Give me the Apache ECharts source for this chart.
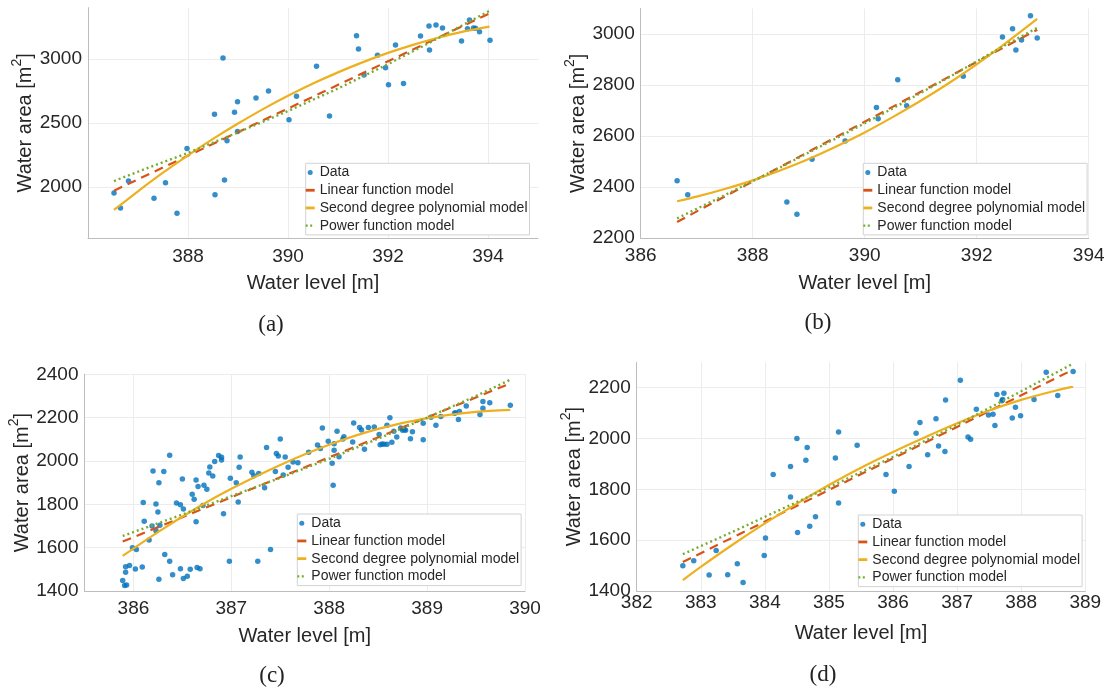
<!DOCTYPE html>
<html>
<head>
<meta charset="utf-8">
<script src="https://cdn.jsdelivr.net/npm/echarts@6/dist/echarts.min.js"></script>
<style>
  html, body { margin: 0; padding: 0; background: #fff; }
  #chart { width: 1110px; height: 693px; }
</style>
</head>
<body>
<div id="chart"></div>
<script>
// ---- Panel (a) ----
const levelA = [386.52,386.65,386.81,387.32,387.55,387.78,387.98,388.53,388.54,388.70,388.73,388.78,388.93,388.99,388.99,389.36,389.61,390.02,390.17,390.57,390.83,391.37,391.41,391.52,391.79,391.95,392.01,392.15,392.31,392.65,392.82,392.83,392.96,393.09,393.47,393.59,393.63,393.71,393.75,393.83,394.04];
const areaA  = [1952,1834,2045,1910,2032,1793,2300,2566,1938,3006,2053,2360,2582,2665,2433,2694,2748,2524,2707,2941,2553,3181,3077,2873,3027,2931,2798,3108,2808,3178,3256,3069,3264,3241,3139,3235,3303,3241,3238,3212,3144];
const linLevelA  = [386.52, 394.03];
const linAreaA   = [1970, 3355];
const polyLevelA = [386.52,387,387.5,388,388.5,389,389.5,390,390.5,391,391.5,392,392.5,393,393.5,394.03];
const polyAreaA  = [1819,1965,2110,2246,2374,2494,2607,2711,2807,2894,2974,3046,3109,3164,3212,3251];
const powLevelA  = [386.52,387,388,389,390,391,392,393,394.03];
const powAreaA   = [2045,2118,2265,2425,2592,2768,2958,3160,3375];
const xTicksA = [388, 390, 392, 394];
const yTicksA = [2000, 2500, 3000];

// ---- Panel (b) ----
const levelB = [386.65,386.84,388.61,388.79,389.06,389.65,390.21,390.24,390.59,390.75,391.76,392.46,392.64,392.70,392.80,392.96,393.08];
const areaB  = [2425,2370,2341,2293,2509,2580,2712,2668,2821,2719,2834,2988,3021,2937,2976,3072,2984];
const linLevelB  = [386.65, 393.08];
const linAreaB   = [2263, 3017];
const polyLevelB = [386.65,387,387.5,388,388.5,389,389.5,390,390.5,391,391.5,392,392.5,393.08];
const polyAreaB  = [2344,2362,2392,2426,2466,2510,2560,2614,2674,2738,2807,2881,2961,3059];
const powLevelB  = [386.65,387.5,388.5,389.5,390.5,391.5,392.5,393.08];
const powAreaB   = [2277,2368,2478,2592,2708,2830,2955,3024];
const xTicksB = [386, 388, 390, 392, 394];
const yTicksB = [2200, 2400, 2600, 2800, 3000];

// ---- Panel (c) ----
const levelC = [385.89,385.91,385.93,385.92,385.92,385.96,385.99,386.03,386.02,386.09,386.10,386.11,386.16,386.19,386.20,386.23,386.25,386.26,386.26,386.23,386.31,386.32,386.27,386.37,386.37,386.40,386.44,386.48,386.48,386.50,386.51,386.51,386.55,386.58,386.60,386.62,386.64,386.64,386.65,386.66,386.68,386.72,386.71,386.75,386.77,386.78,386.81,386.83,386.87,386.90,386.90,386.92,386.98,386.99,387.05,387.07,387.08,387.09,387.21,387.23,387.27,387.28,387.34,387.36,387.40,387.45,387.46,387.48,387.50,387.53,387.55,387.58,387.68,387.63,387.79,387.88,387.91,387.93,387.99,388.03,388.04,388.05,388.05,388.08,388.10,388.14,388.15,388.24,388.25,388.31,388.33,388.36,388.40,388.46,388.51,388.52,388.54,388.56,388.59,388.59,388.62,388.64,388.66,388.69,388.73,388.75,388.77,388.78,388.83,388.85,388.96,388.96,389.04,389.09,389.14,389.28,389.29,389.32,389.33,389.40,389.54,389.57,389.57,389.64,389.85];
const areaC  = [1448,1425,1428,1486,1512,1518,1600,1592,1502,1511,1808,1722,1635,1700,1954,1802,1765,1900,1454,1678,1951,1568,1703,1537,2026,1475,1806,1503,1798,1917,1458,1778,1468,1500,1846,1823,1720,1912,1508,1882,1503,1888,1795,1869,1945,1972,1931,1998,2025,2017,2005,1757,1537,1920,1900,1811,1971,2018,1948,1932,1537,1942,1877,2062,1591,1952,2035,2023,2102,1935,2018,1971,1992,1995,2040,2074,2058,2152,2091,1989,1888,2049,2080,2137,2020,2102,2112,2088,2175,2154,2143,2054,2155,2157,2122,2075,2078,2077,2077,2165,2200,2086,2137,2111,2152,2142,2145,2142,2103,2135,2098,2174,2202,2165,2205,2220,2223,2191,2228,2254,2215,2243,2274,2269,2257];
const linLevelC  = [385.89, 389.85];
const linAreaC   = [1628, 2358];
const polyLevelC = [385.89,386.25,386.68,387,387.5,388,388.5,389,389.5,389.85];
const polyAreaC  = [1562,1672,1792,1872,1982,2075,2148,2198,2227,2236];
const powLevelC  = [385.89,386.5,387,387.5,388,388.5,389,389.5,389.85];
const powAreaC   = [1654,1753,1838,1922,2010,2103,2200,2300,2375];
const xTicksC = [386, 387, 388, 389, 390];
const yTicksC = [1400, 1600, 1800, 2000, 2200, 2400];

// ---- Panel (d) ----
const levelD = [382.72,382.89,383.13,383.24,383.42,383.57,383.66,383.99,384.01,384.13,384.40,384.40,384.50,384.51,384.64,384.66,384.70,384.79,385.10,385.15,385.15,385.44,385.89,386.02,386.25,386.36,386.42,386.54,386.67,386.71,386.81,386.82,387.05,387.17,387.21,387.30,387.49,387.56,387.59,387.62,387.70,387.71,387.73,387.86,387.91,387.99,388.20,388.39,388.57,388.81];
const areaD  = [1499,1519,1463,1559,1464,1507,1433,1540,1609,1858,1770,1890,2000,1630,1915,1965,1655,1692,1923,2026,1746,1974,1858,1793,1890,2021,2063,1936,2078,1971,1949,2152,2229,2006,1997,2115,2093,2096,2051,2173,2149,2154,2178,2081,2123,2090,2154,2261,2169,2264];
const linLevelD  = [382.72, 388.81];
const linAreaD   = [1514, 2271];
const polyLevelD = [382.72,383,383.5,384,384.5,385,385.5,386,386.5,387,387.5,388,388.5,388.81];
const polyAreaD  = [1443,1495,1583,1666,1744,1817,1885,1947,2005,2060,2110,2152,2186,2204];
const powLevelD  = [382.72,383.5,384,385,386,387,388,388.81];
const powAreaD   = [1545,1633,1692,1808,1928,2054,2186,2295];
const xTicksD = [382, 383, 384, 385, 386, 387, 388, 389];
const yTicksD = [1400, 1600, 1800, 2000, 2200];

const NAMES  = ['Data', 'Linear function model', 'Second degree polynomial model', 'Power function model'];
const COLORS = ['#0072BD', '#D95319', '#EDB120', '#77AC30'];
const FONT = '"Liberation Sans", Arial, Helvetica, sans-serif';
const SERIF = '"Liberation Serif", "Times New Roman", serif';
const TXT = '#262626';
const AXIS_C = '#bdbdbd';
const GRID_C = '#ececec';

const pts = (xs, ys) => xs.map((x, i) => [x, ys[i]]);
const plain = v => String(v);

// Layout of the four panels
const panels = [
  { grid: { left: 88, top: 7.6, width: 450, height: 230.4 }, xr: [386, 395], yr: [1600, 3400],
    xt: xTicksA, yt: yTicksA, xm: 9, xg: 35, yg: 29, legend: [305.7, 163.3], cap: ['(a)', 271, 325],
    d: [levelA, areaA], lin: [linLevelA, linAreaA], poly: [polyLevelA, polyAreaA], pow: [powLevelA, powAreaA] },
  { grid: { left: 640.7, top: 8.5, width: 448, height: 229.5 }, xr: [386, 394], yr: [2200, 3100],
    xt: xTicksB, yt: yTicksB, xm: 8, xg: 35, yg: 30, legend: [863.3, 163.3], cap: ['(b)', 818, 323],
    d: [levelB, areaB], lin: [linLevelB, linAreaB], poly: [polyLevelB, polyAreaB], pow: [powLevelB, powAreaB] },
  { grid: { left: 84.5, top: 374.3, width: 440.5, height: 216.7 }, xr: [385.5, 390], yr: [1400, 2400],
    xt: xTicksC, yt: yTicksC, xm: 8, xg: 35, yg: 27, legend: [297.3, 514], cap: ['(c)', 272, 676],
    d: [levelC, areaC], lin: [linLevelC, linAreaC], poly: [polyLevelC, polyAreaC], pow: [powLevelC, powAreaC] },
  { grid: { left: 636.7, top: 362.3, width: 448.6, height: 228.7 }, xr: [382, 389], yr: [1400, 2300],
    xt: xTicksD, yt: yTicksD, xm: 2, xg: 32, yg: 26, legend: [858.3, 515], cap: ['(d)', 823, 675],
    d: [levelD, areaD], lin: [linLevelD, linAreaD], poly: [polyLevelD, polyAreaD], pow: [powLevelD, powAreaD] }
];

const labelStyle = { fontFamily: FONT, fontSize: 19, color: TXT, formatter: plain };

const grids = [], xAxes = [], yAxes = [], series = [], legends = [], captions = [];

panels.forEach((p, i) => {
  grids.push(Object.assign({ containLabel: false }, p.grid));

  xAxes.push({
    type: 'value', gridIndex: i, min: p.xr[0], max: p.xr[1],
    name: 'Water level [m]', nameLocation: 'middle', nameGap: p.xg,
    nameTextStyle: { fontFamily: FONT, fontSize: 20, color: TXT },
    axisLine: { show: true, onZero: false, lineStyle: { color: AXIS_C, width: 1 } },
    axisTick: { show: false, customValues: p.xt },
    axisLabel: Object.assign({ customValues: p.xt, margin: p.xm }, labelStyle),
    splitLine: { show: true, lineStyle: { color: GRID_C, width: 1 } }
  });

  yAxes.push({
    type: 'value', gridIndex: i, min: p.yr[0], max: p.yr[1],
    name: '{t|Water area [m}{s|2}{t|]}', nameLocation: 'middle', nameGap: p.yg,
    nameTextStyle: {
      fontFamily: FONT, fontSize: 20, color: TXT,
      rich: {
        t: { fontFamily: FONT, fontSize: 20, color: TXT },
        s: { fontFamily: FONT, fontSize: 14, color: TXT, padding: [0, 0, 17, 0] }
      }
    },
    axisLine: { show: true, onZero: false, lineStyle: { color: AXIS_C, width: 1 } },
    axisTick: { show: false, customValues: p.yt },
    axisLabel: Object.assign({ customValues: p.yt, margin: 6 }, labelStyle),
    splitLine: { show: true, lineStyle: { color: GRID_C, width: 1 } }
  });

  series.push({
    name: NAMES[0], type: 'scatter', xAxisIndex: i, yAxisIndex: i,
    data: pts(p.d[0], p.d[1]), symbol: 'circle', symbolSize: 5.5,
    itemStyle: { color: COLORS[0] }, z: 2
  });
  series.push({
    name: NAMES[1], type: 'line', xAxisIndex: i, yAxisIndex: i,
    data: pts(p.lin[0], p.lin[1]), symbol: 'none', showSymbol: false,
    lineStyle: { color: COLORS[1], width: 2.2, type: [9, 6] }, itemStyle: { color: COLORS[1] }, z: 3
  });
  series.push({
    name: NAMES[2], type: 'line', xAxisIndex: i, yAxisIndex: i,
    data: pts(p.poly[0], p.poly[1]), symbol: 'none', showSymbol: false, smooth: 0.3,
    lineStyle: { color: COLORS[2], width: 2.2 }, itemStyle: { color: COLORS[2] }, z: 4
  });
  series.push({
    name: NAMES[3], type: 'line', xAxisIndex: i, yAxisIndex: i,
    data: pts(p.pow[0], p.pow[1]), symbol: 'none', showSymbol: false,
    lineStyle: { color: COLORS[3], width: 2.4, type: [2, 3] }, itemStyle: { color: COLORS[3] }, z: 5
  });

  legends.push({
    left: p.legend[0], top: p.legend[1], orient: 'vertical', align: 'left',
    itemWidth: 9, itemHeight: 5, itemGap: 2.2, padding: [1.5, 2, 1.5, 0],
    backgroundColor: '#fff', borderColor: '#d2d2d2', borderWidth: 1, borderRadius: 0,
    selectedMode: false,
    textStyle: { fontFamily: FONT, fontSize: 14, color: TXT, lineHeight: 15.5 },
    data: [
      { name: NAMES[0], icon: 'circle', itemStyle: { color: COLORS[0] } },
      { name: NAMES[1], icon: 'path://M0,0h9v2.8h-9z', itemStyle: { color: COLORS[1] } },
      { name: NAMES[2], icon: 'path://M0,0h9v2.8h-9z', itemStyle: { color: COLORS[2] } },
      { name: NAMES[3], icon: 'path://M0,0h2v2.2h-2zM4.5,0h2v2.2h-2zM8.99,0h0.01v2.2h-0.01z', itemStyle: { color: COLORS[3] } }
    ]
  });

  captions.push({
    type: 'text', x: p.cap[1], y: p.cap[2],
    style: { text: p.cap[0], font: '23px ' + SERIF, fill: '#222', align: 'center', verticalAlign: 'middle' }
  });
});

const chart = echarts.init(document.getElementById('chart'), null, { renderer: 'canvas' });
chart.setOption({
  animation: false,
  backgroundColor: '#ffffff',
  grid: grids,
  xAxis: xAxes,
  yAxis: yAxes,
  legend: legends,
  series: series,
  graphic: captions
});
</script>
</body>
</html>
